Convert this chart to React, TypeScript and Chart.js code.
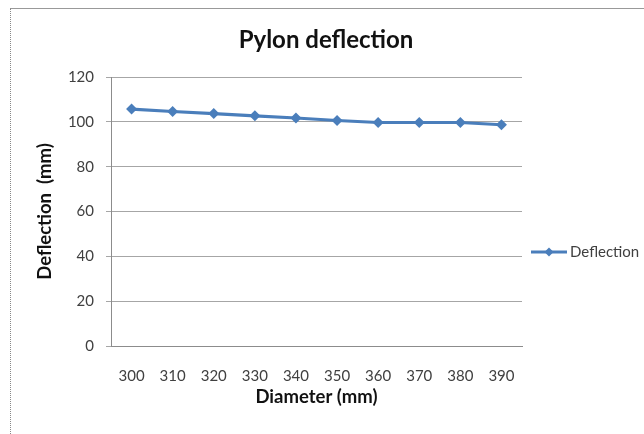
import React, { useEffect, useRef } from "react";
import { Chart, registerables } from "chart.js";

Chart.register(...registerables);

const categories = ["300", "310", "320", "330", "340", "350", "360", "370", "380", "390"];
const deflection = [105.7, 104.6, 103.7, 102.7, 101.7, 100.6, 99.7, 99.7, 99.7, 98.7];
const seriesName = "Deflection";
const chartTitle = "Pylon deflection";
const xTitle = "Diameter (mm)";
const yTitle = "Deflection  (mm)";

const FONT = "Lato, 'Open Sans', sans-serif";
const LINE = "#4A7EBB";

const legendPlugin = {
  id: "excelLegend",
  afterDraw(chart: any) {
    const ctx = chart.ctx;
    const ds = chart.data.datasets[0];
    const x0 = 523, x1 = 559, y = 244;
    ctx.save();
    ctx.strokeStyle = ds.borderColor;
    ctx.lineWidth = 3;
    ctx.beginPath();
    ctx.moveTo(x0, y);
    ctx.lineTo(x1, y);
    ctx.stroke();
    const cx = (x0 + x1) / 2, r = 4.5;
    ctx.fillStyle = ds.backgroundColor;
    ctx.beginPath();
    ctx.moveTo(cx, y - r);
    ctx.lineTo(cx + r, y);
    ctx.lineTo(cx, y + r);
    ctx.lineTo(cx - r, y);
    ctx.closePath();
    ctx.fill();
    ctx.fillStyle = "#404040";
    ctx.font = `15px ${FONT}`;
    ctx.textAlign = "left";
    ctx.textBaseline = "middle";
    ctx.fillText(ds.label, x1 + 3, y);
    ctx.restore();
  },
};

export default function App() {
  const ref = useRef<HTMLCanvasElement>(null);
  useEffect(() => {
    document.body.style.margin = "0";
    document.body.style.overflow = "hidden";
    document.documentElement.style.overflow = "hidden";
    if (!ref.current) return;
    const chart = new Chart(ref.current, {
      type: "line",
      data: {
        labels: categories,
        datasets: [
          {
            label: seriesName,
            data: deflection,
            borderColor: LINE,
            backgroundColor: LINE,
            borderWidth: 3.2,
            pointStyle: "rectRot",
            pointRadius: 5.5,
            pointBorderWidth: 0,
            pointBackgroundColor: LINE,
            tension: 0,
          },
        ],
      },
      options: {
        responsive: false,
        animation: false,
        layout: { padding: 0 },
        plugins: {
          legend: { display: false },
          tooltip: { enabled: false },
          title: {
            display: true,
            text: chartTitle,
            color: "#111",
            font: { family: FONT, size: 24, weight: "bold", lineHeight: 1.2 },
            padding: { top: 17.6, bottom: 22.6 },
          },
        },
        scales: {
          x: {
            type: "category",
            offset: true,
            grid: { display: false, drawTicks: false },
            border: { display: true, color: "#8C8C8C", width: 1 },
            ticks: {
              color: "#404040",
              font: { family: FONT, size: 15, lineHeight: 1.2 },
              padding: 21,
              maxRotation: 0,
              autoSkip: false,
            },
            title: {
              display: true,
              text: xTitle,
              color: "#111",
              font: { family: FONT, size: 18.5, weight: "bold", lineHeight: 1.2 },
              padding: { top: 0, bottom: 25.9 },
            },
            afterFit(scale: any) {
              scale.height = 88;
            },
          },
          y: {
            min: 0,
            max: 120,
            ticks: {
              stepSize: 20,
              color: "#404040",
              font: { family: FONT, size: 15, lineHeight: 1.2 },
              padding: 12,
            },
            grid: { color: "#A6A6A6", lineWidth: 1, tickLength: 5, drawTicks: true },
            border: { display: true, color: "#8C8C8C", width: 1 },
            title: {
              display: true,
              text: yTitle,
              color: "#111",
              font: { family: FONT, size: 18.5, weight: "bold", lineHeight: 1.2 },
              padding: { top: 25.9, bottom: 0 },
            },
            afterFit(scale: any) {
              scale.width = 103;
            },
          },
          spacer: {
            type: "linear",
            position: "right",
            display: true,
            grid: { display: false, drawTicks: false },
            border: { display: false },
            ticks: { display: false },
            afterFit(scale: any) {
              scale.width = 122;
            },
          },
        },
      },
      plugins: [legendPlugin],
    } as any);
    return () => chart.destroy();
  }, []);
  return (
    <div style={{ position: "relative", width: 644, height: 434, overflow: "hidden", background: "#fff" }}>
      <div
        style={{
          position: "absolute",
          left: 10,
          top: 8,
          width: 634,
          height: 426,
          borderLeft: "1px dotted #888",
          borderTop: "1px solid #999",
          boxSizing: "border-box",
        }}
      />
      <canvas
        ref={ref}
        width={636}
        height={426}
        style={{ position: "absolute", left: 8, top: 8, width: 636, height: 426 }}
      />
    </div>
  );
}
